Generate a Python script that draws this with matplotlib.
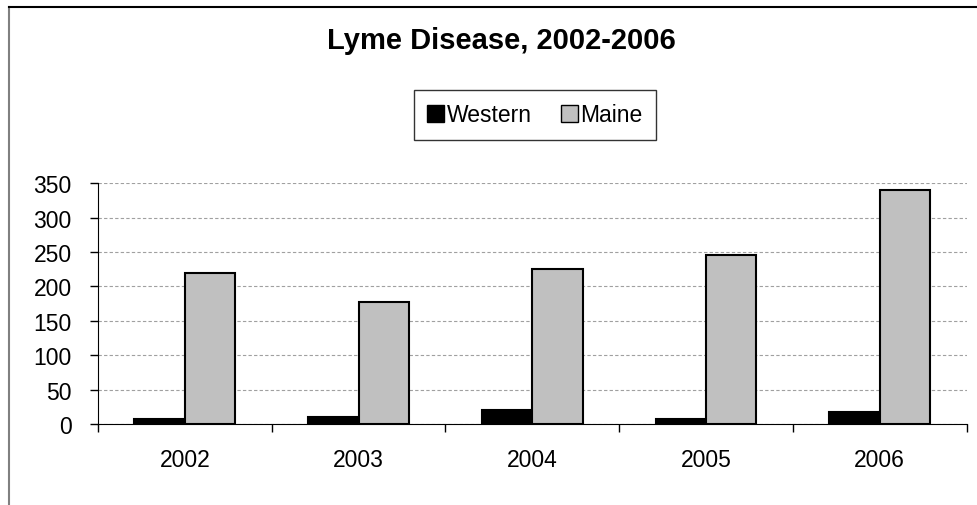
import matplotlib.pyplot as plt
import matplotlib.patches as mpatches
from matplotlib.lines import Line2D
import numpy as np

plt.rcParams['font.family'] = ['Liberation Sans', 'DejaVu Sans']

years = ["2002", "2003", "2004", "2005", "2006"]
western = [8, 10, 21, 8, 17]
maine = [219, 177, 225, 245, 340]

fig = plt.figure(figsize=(9.77, 5.06), dpi=100)
ax = fig.add_axes([0.1003, 0.16, 0.889, 0.476])

x = np.arange(len(years))
w = 0.29
ax.bar(x - w / 2, western, w, color="black", edgecolor="black", linewidth=1.5, label="Western", zorder=3)
ax.bar(x + w / 2, maine, w, color="#c0c0c0", edgecolor="black", linewidth=1.5, label="Maine", zorder=3)

ax.set_xlim(-0.5, len(years) - 0.5)
ax.set_ylim(0, 350)
ax.set_yticks(range(0, 351, 50))
ax.set_xticks(np.arange(-0.5, len(years)), minor=False)
ax.set_xticklabels([])
ax.set_xticks(x, minor=True)
ax.set_xticklabels(years, minor=True, fontsize=16.5)
ax.tick_params(axis="x", which="minor", length=0, pad=17)
ax.tick_params(axis="x", which="major", length=6, direction="out", width=1)
ax.tick_params(axis="y", length=6, direction="out", labelsize=16.5, width=1, pad=13)
for s in ["top", "right"]:
    ax.spines[s].set_visible(False)
ax.yaxis.grid(True, linestyle=(0, (3, 2)), color="#a0a0a0", linewidth=0.8, zorder=0)
ax.set_axisbelow(True)

fig.text(0.513, 0.918, "Lyme Disease, 2002-2006", ha="center", va="center",
         fontsize=21, fontweight="bold")

handles = [mpatches.Patch(facecolor="black", edgecolor="black", label="Western"),
           mpatches.Patch(facecolor="#c0c0c0", edgecolor="black", label="Maine")]
leg = fig.legend(handles=handles, loc="center", bbox_to_anchor=(0.5476, 0.7708), ncol=2,
                 fontsize=16.5, frameon=True, fancybox=False, edgecolor="black",
                 handlelength=0.74, handleheight=0.74, handletextpad=0.12,
                 columnspacing=1.25, borderpad=0.6, borderaxespad=0)
leg.get_frame().set_linewidth(1.0)

# chart area border (left and top edges visible)
fig.add_artist(Line2D([9 / 977, 9 / 977], [0, 1 - 8 / 506], color="#808080", linewidth=1.5))
fig.add_artist(Line2D([9 / 977, 1], [1 - 8 / 506, 1 - 8 / 506], color="black", linewidth=1.5))

fig.savefig("out.png", dpi=100)
